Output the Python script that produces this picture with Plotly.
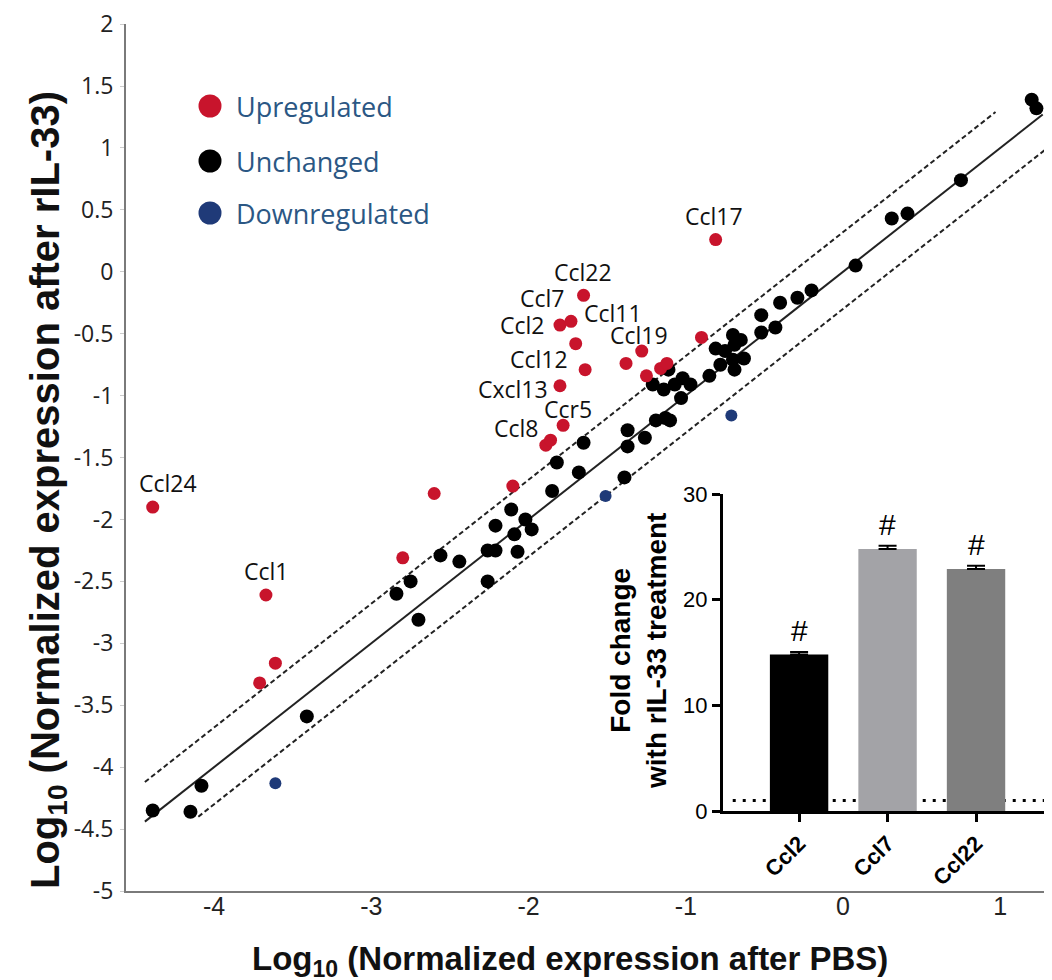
import plotly.graph_objects as go

# ---------------- data (log10 normalized expression) ----------------
unch_x = [-4.39, -4.08, -4.15, -3.41, -2.84, -2.75, -2.70, -2.56, -2.44, -2.26,
          -2.21, -2.21, -2.11, -2.09, -2.26, -2.07, -2.02, -1.98, -1.85, -1.82,
          -1.68, -1.65, -1.39, -1.37, -1.37, -1.26, -1.19, -1.13, -1.21, -1.14,
          -1.11, -1.07, -1.02, -0.97, -1.03, -0.85, -0.78, -0.81, -0.75, -0.70,
          -0.69, -0.65, -0.70, -0.63, -0.69, -0.52, -0.52, -0.43, -0.40, -0.29,
          -0.20, 0.08, 0.31, 0.41, 0.75, 1.20, 1.23, -1.10]
unch_y = [-4.35, -4.15, -4.36, -3.59, -2.60, -2.50, -2.81, -2.29, -2.34, -2.25,
          -2.25, -2.05, -1.92, -2.12, -2.50, -2.26, -2.00, -2.08, -1.77, -1.54,
          -1.62, -1.38, -1.66, -1.41, -1.28, -1.34, -1.20, -1.18, -0.91, -0.95,
          -0.79, -0.91, -0.86, -0.91, -1.02, -0.84, -0.75, -0.62, -0.64, -0.51,
          -0.59, -0.55, -0.71, -0.70, -0.79, -0.35, -0.49, -0.45, -0.25, -0.21,
          -0.15, 0.05, 0.43, 0.47, 0.74, 1.39, 1.32, -1.20]

up_x = [-4.39, -3.67, -3.61, -3.71, -2.80, -2.60, -2.10, -1.89, -1.86, -1.78,
        -1.80, -1.64, -1.70, -1.80, -1.73, -1.65, -1.38, -1.28, -1.25, -1.16,
        -1.12, -0.90, -0.81]
up_y = [-1.90, -2.61, -3.16, -3.32, -2.31, -1.79, -1.73, -1.40, -1.36, -1.24,
        -0.92, -0.79, -0.58, -0.43, -0.40, -0.19, -0.74, -0.64, -0.84, -0.78,
        -0.74, -0.53, 0.26]
up_names = ["Ccl24", "Ccl1", "", "", "", "", "", "Ccl8", "", "Ccr5",
            "Cxcl13", "Ccl12", "Ccl11", "Ccl2", "Ccl7", "Ccl22", "", "Ccl19", "", "",
            "", "", "Ccl17"]

down_x = [-3.61, -1.51, -0.71]
down_y = [-4.13, -1.81, -1.16]

# reference lines: identity and +/- fold-change thresholds
ident_x = [-4.44, 1.27]
upper_x = [-4.44, 0.97]
lower_x = [-4.10, 1.29]
upper_off = 0.32
lower_off = -0.30

x_ticks = [-4, -3, -2, -1, 0, 1]
x_ticklabels = ["-4", "-3", "-2", "-1", "0", "1"]
y_ticks = [2, 1.5, 1, 0.5, 0, -0.5, -1, -1.5, -2, -2.5, -3, -3.5, -4, -4.5, -5]
y_ticklabels = ["2", "1.5", "1", "0.5", "0", "-0.5", "-1", "-1.5", "-2", "-2.5",
                "-3", "-3.5", "-4", "-4.5", "-5"]

# inset
inset_genes = ["Ccl2", "Ccl7", "Ccl22"]
inset_fold = [14.8, 24.8, 22.9]
inset_err = [0.25, 0.3, 0.3]
inset_ticks = [0, 10, 20, 30]
baseline_fold = 1

legend_items = ["Upregulated", "Unchanged", "Downregulated"]

# ---------------- styles ----------------
RED = "#c8142c"
BLACK = "#000000"
BLUE = "#1f3a78"
LEG_TXT = "#2b5784"
bar_colors = ["#000000", "#a3a3a7", "#7f7f7f"]

label_style = {  # name: (xanchor, xshift, yshift)
    "Ccl24": ("center", 15, 24), "Ccl1": ("center", 0, 24), "Ccl8": ("right", -6, 17),
    "Ccr5": ("center", 5, 16), "Cxcl13": ("right", -10, -3), "Ccl12": ("right", -15, 11),
    "Ccl11": ("left", 6, 31), "Ccl2": ("right", -14, 0), "Ccl7": ("right", -5, 23),
    "Ccl22": ("center", -1, 23), "Ccl19": ("center", -3, 16), "Ccl17": ("center", -2, 24),
}

W, H = 1052, 980
ML, MR, MT, MB = 118, 0, 16, 97
PW, PH = W - ML - MR, H - MT - MB


def px2paper_x(px):
    return (px - ML) / PW


def px2paper_y(py):
    return (H - MB - py) / PH


fig = go.Figure()

line_col = "#222222"
fig.add_trace(go.Scatter(x=ident_x, y=ident_x, mode="lines",
                         line=dict(color=line_col, width=2), showlegend=False, hoverinfo="skip"))
fig.add_trace(go.Scatter(x=upper_x, y=[v + upper_off for v in upper_x], mode="lines",
                         line=dict(color=line_col, width=2, dash="5px,3px"), showlegend=False, hoverinfo="skip"))
fig.add_trace(go.Scatter(x=lower_x, y=[v + lower_off for v in lower_x], mode="lines",
                         line=dict(color=line_col, width=2, dash="5px,3px"), showlegend=False, hoverinfo="skip"))

fig.add_trace(go.Scatter(x=unch_x, y=unch_y, mode="markers", name="Unchanged",
                         marker=dict(color=BLACK, size=14), showlegend=False))
fig.add_trace(go.Scatter(x=up_x, y=up_y, mode="markers", name="Upregulated",
                         marker=dict(color=RED, size=13), showlegend=False))
fig.add_trace(go.Scatter(x=down_x, y=down_y, mode="markers", name="Downregulated",
                         marker=dict(color=BLUE, size=12), showlegend=False))

# inset bar chart
fig.add_trace(go.Bar(x=inset_genes, y=inset_fold, xaxis="x2", yaxis="y2", width=0.66,
                     marker=dict(color=bar_colors, line=dict(width=0)),
                     error_y=dict(type="data", array=inset_err, arrayminus=[0] * len(inset_err),
                                  symmetric=False, color="black", thickness=2, width=9),
                     showlegend=False))

annotations = []
for x, y, n in zip(up_x, up_y, up_names):
    if not n:
        continue
    xa, xs, ys = label_style[n]
    annotations.append(dict(x=x, y=y, xref="x", yref="y", text=n, showarrow=False,
                            xanchor=xa, yanchor="middle", xshift=xs, yshift=ys,
                            font=dict(family="Open Sans", size=23, color="#111111")))

for g, v, e in zip(inset_genes, inset_fold, inset_err):
    annotations.append(dict(x=g, y=v + e, xref="x2", yref="y2", text="#", showarrow=False,
                            yanchor="middle", yshift=21,
                            font=dict(family="Liberation Sans, Arial", size=30, color="black")))

# legend (drawn manually for larger symbols)
shapes = []
leg_cols = [RED, BLACK, BLUE]
leg_py = [98, 153, 205]
for name, col, py in zip(legend_items, leg_cols, leg_py):
    shapes.append(dict(type="circle", xref="paper", yref="paper", xsizemode="pixel", ysizemode="pixel",
                       xanchor=px2paper_x(202), yanchor=px2paper_y(py), x0=-11.5, x1=11.5, y0=-11.5, y1=11.5,
                       fillcolor=col, line=dict(width=0)))
    annotations.append(dict(x=px2paper_x(226), y=px2paper_y(py), xref="paper", yref="paper",
                            text=name, showarrow=False, xanchor="left", yanchor="middle",
                            font=dict(family="Open Sans", size=27, color=LEG_TXT)))

# fold = 1 dotted line in inset (behind the bars)
shapes.append(dict(type="line", xref="x2", yref="y2", x0=-0.75, x1=2.87, y0=baseline_fold, y1=baseline_fold,
                   line=dict(color="black", width=3, dash="3px,7px"), layer="below"))

# axis titles
annotations.append(dict(x=px2paper_x(562), y=px2paper_y(953), xref="paper", yref="paper",
                        text="<b>Log<sub>10</sub> (Normalized expression after PBS)</b>", showarrow=False,
                        xanchor="center", yanchor="middle",
                        font=dict(family="Liberation Sans Narrow, Arial Narrow, Liberation Sans", size=33, color="#111111")))
annotations.append(dict(x=px2paper_x(40), y=px2paper_y(482), xref="paper", yref="paper",
                        text="<b>Log<sub>10</sub> (Normalized expression after rIL-33)</b>", showarrow=False,
                        xanchor="center", yanchor="middle", textangle=-90,
                        font=dict(family="Liberation Sans Narrow, Arial Narrow, Liberation Sans", size=40, color="#111111")))
annotations.append(dict(x=px2paper_x(630), y=px2paper_y(643), xref="paper", yref="paper",
                        text="<b>Fold change<br>with rIL-33 treatment</b>", showarrow=False,
                        xanchor="center", yanchor="middle", textangle=-90,
                        font=dict(family="Liberation Sans, Arial", size=28, color="black")))

fig.update_layout(
    width=W, height=H,
    margin=dict(l=ML, r=MR, t=MT, b=MB, pad=0),
    paper_bgcolor="white", plot_bgcolor="rgba(0,0,0,0)",
    showlegend=False,
    xaxis=dict(range=[-4.56, 1.38], tickvals=x_ticks, ticktext=x_ticklabels,
               showgrid=False, zeroline=False, showline=True, linecolor="#7a7a7a", linewidth=2,
               ticks="", ticklabelstandoff=-8,
               tickfont=dict(family="Liberation Sans Narrow, Arial Narrow, Liberation Sans", size=25, color="#222222")),
    yaxis=dict(range=[-5, 2.001], tickvals=y_ticks, ticktext=y_ticklabels, ticklabeloverflow="allow",
               showgrid=False, zeroline=False, showline=True, linecolor="#7a7a7a", linewidth=2,
               ticks="outside", ticklen=4, tickcolor="#cccccc", tickwidth=1, ticklabelstandoff=2,
               tickfont=dict(family="Open Sans", size=23, color="#222222")),
    xaxis2=dict(domain=[px2paper_x(715), px2paper_x(1045)], anchor="y2", range=[-0.86, 2.87],
                showgrid=False, zeroline=False, showline=True, linecolor="black", linewidth=3,
                ticks="outside", ticklen=8, tickwidth=3, tickcolor="black", tickangle=-45,
                tickfont=dict(family="Liberation Sans, Arial", size=22, color="black"),
                tickprefix="<b>", ticksuffix="</b>"),
    yaxis2=dict(domain=[px2paper_y(803), px2paper_y(486)], anchor="x2", range=[0, 30],
                tickvals=inset_ticks, showgrid=False, zeroline=False, showline=True,
                linecolor="black", linewidth=3, ticks="outside", ticklen=8, tickwidth=3, tickcolor="black",
                tickfont=dict(family="Liberation Sans, Arial", size=22, color="black"),
                tickprefix="<b>", ticksuffix="</b>"),
    annotations=annotations,
    shapes=shapes,
)

fig.write_html("out.html")
